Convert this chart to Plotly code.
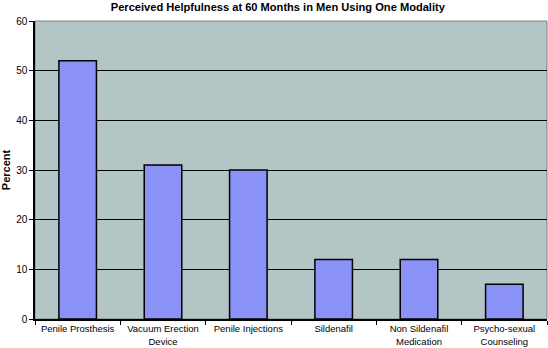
import plotly.graph_objects as go

categories = ["Penile Prosthesis", "Vacuum Erection<br>Device", "Penile Injections",
              "Sildenafil", "Non Sildenafil<br>Medication", "Psycho-sexual<br>Counseling"]
values = [52, 31, 30, 12, 12, 7]
y_ticks = [0, 10, 20, 30, 40, 50, 60]

fig = go.Figure(go.Bar(
    x=categories, y=values,
    marker=dict(color="#8a92f6", line=dict(color="#000000", width=1.5)),
    width=0.44,
))

fig.update_layout(
    width=548, height=348,
    margin=dict(l=35, r=1, t=21, b=29),
    paper_bgcolor="white",
    plot_bgcolor="#b4c5c5",
    font=dict(family="Liberation Sans, Arial, sans-serif", size=10, color="black"),
    title=dict(text="<b>Perceived Helpfulness at 60 Months in Men Using One Modality</b>",
               x=0.507, xanchor="center", y=0.99, yanchor="top",
               font=dict(size=11.1)),
    showlegend=False,
    bargap=0.5,
)
fig.update_xaxes(
    type="category", tickson="boundaries", ticks="outside", ticklen=4,
    tickcolor="black", showline=True, linecolor="black", linewidth=1.5,
    showgrid=False, mirror=False, tickfont=dict(size=9.5), tickangle=0,
    automargin=False,
)
fig.update_yaxes(
    range=[0, 60], tickvals=y_ticks, ticks="outside", ticklen=4, tickcolor="black",
    showline=True, linecolor="black", linewidth=1.5,
    showgrid=True, gridcolor="black", gridwidth=1.2,
    title=dict(text="<b>Percent</b>", font=dict(size=11), standoff=8),
    tickfont=dict(size=10), zeroline=False, automargin=False,
)
fig.add_shape(type="rect", xref="paper", yref="paper", x0=0, x1=1, y0=0, y1=1,
              line=dict(color="#808080", width=1), layer="below")

fig.write_html("out.html", config={"displayModeBar": False},
               post_script="document.body.style.margin='0';document.body.style.overflow='hidden';")
